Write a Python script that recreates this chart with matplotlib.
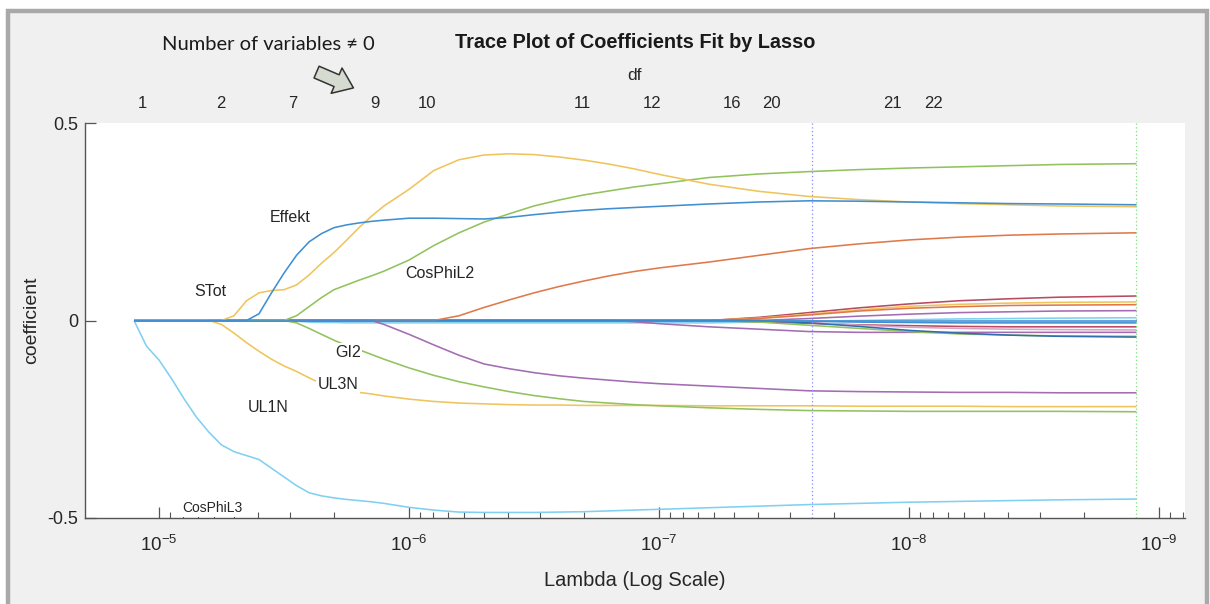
import numpy as np
import matplotlib
matplotlib.use("Agg")
import matplotlib.pyplot as plt
from matplotlib.patches import Rectangle, FancyArrowPatch
from matplotlib.ticker import LogLocator, NullFormatter, FixedLocator

plt.rcParams['font.family'] = ['Liberation Sans', 'DejaVu Sans']

# ---------------- data ----------------
LOG_LAMBDA = [-4.90, -4.95, -5.00, -5.05, -5.10, -5.15, -5.20, -5.25, -5.30, -5.35,
              -5.40, -5.45, -5.50, -5.55, -5.60, -5.65, -5.70, -5.75, -5.80, -5.85,
              -5.90, -6.00, -6.10, -6.20, -6.30, -6.40, -6.50, -6.60, -6.70, -6.80,
              -6.90, -7.00, -7.20, -7.40, -7.60, -7.80, -8.00, -8.20, -8.40, -8.60,
              -8.91]

COSPHIL3 = [0.0, -0.065, -0.100, -0.147, -0.198, -0.245, -0.283, -0.315, -0.332, -0.342,
            -0.352, -0.374, -0.396, -0.418, -0.436, -0.444, -0.449, -0.453, -0.456, -0.459,
            -0.463, -0.473, -0.480, -0.485, -0.486, -0.486, -0.486, -0.485, -0.484, -0.482,
            -0.480, -0.478, -0.474, -0.470, -0.466, -0.463, -0.460, -0.458, -0.456, -0.454,
            -0.452]
EFFEKT = [0.0] * 10 + [0.017, 0.070, 0.120, 0.165, 0.199, 0.220, 0.235, 0.242, 0.247, 0.251,
                       0.254, 0.259, 0.259, 0.258, 0.257, 0.261, 0.268, 0.274, 0.279, 0.283,
                       0.286, 0.289, 0.295, 0.300, 0.303, 0.302, 0.300, 0.298, 0.296, 0.295,
                       0.293]
STOT = [0.0] * 8 + [0.012, 0.050, 0.070, 0.076, 0.078, 0.090, 0.115, 0.145, 0.172, 0.203,
                    0.235, 0.264, 0.290, 0.332, 0.380, 0.407, 0.419, 0.422, 0.420, 0.414,
                    0.406, 0.396, 0.384, 0.370, 0.345, 0.327, 0.314, 0.306, 0.300, 0.296,
                    0.293, 0.290, 0.288]
COSPHIL2 = [0.0] * 13 + [0.012, 0.035, 0.058, 0.078, 0.090, 0.102, 0.113, 0.125, 0.153, 0.190,
                         0.222, 0.249, 0.270, 0.290, 0.305, 0.318, 0.328, 0.338, 0.346, 0.362,
                         0.371, 0.377, 0.382, 0.386, 0.389, 0.392, 0.395, 0.397]
GI2 = [0.0] * 13 + [-0.006, -0.020, -0.035, -0.050, -0.063, -0.074, -0.086, -0.098, -0.120, -0.139,
                    -0.155, -0.168, -0.180, -0.190, -0.198, -0.205, -0.209, -0.213, -0.216, -0.221,
                    -0.225, -0.228, -0.229, -0.230, -0.230, -0.230, -0.230, -0.231]
UL3N = [0.0] * 7 + [-0.010, -0.032, -0.056, -0.078, -0.098, -0.115, -0.129, -0.145, -0.160, -0.169,
                    -0.176, -0.182, -0.186, -0.191, -0.199, -0.205, -0.209, -0.211, -0.213, -0.214,
                    -0.214, -0.215, -0.215, -0.215, -0.215, -0.216, -0.216, -0.216, -0.217, -0.217,
                    -0.217, -0.218, -0.218, -0.218]
PURPLE_NEG = [0.0] * 20 + [-0.010, -0.035, -0.062, -0.088, -0.110, -0.122, -0.132, -0.140, -0.146, -0.151,
                           -0.156, -0.160, -0.166, -0.172, -0.178, -0.180, -0.181, -0.182, -0.182, -0.183,
                           -0.183]
ORANGE_POS = [0.0] * 23 + [0.012, 0.033, 0.052, 0.070, 0.086, 0.100, 0.113, 0.124, 0.133, 0.148,
                           0.165, 0.182, 0.194, 0.204, 0.211, 0.216, 0.219, 0.222]
LIGHTBLUE_SMALL = [0.0] * 13 + [-0.002, -0.004, -0.005, -0.005, -0.006, -0.006, -0.006, -0.006,
                                -0.006, -0.006, -0.006, -0.006, -0.006, -0.006, -0.006, -0.006,
                                -0.006, -0.006, -0.006, -0.006, -0.004, -0.002, 0.000, 0.002,
                                0.004, 0.005, 0.006, 0.007]
PURPLE_SMALL = [0.0] * 30 + [-0.003, -0.008, -0.016, -0.022, -0.028, -0.030, -0.030, -0.030, -0.030,
                             -0.030, -0.030]
DARKRED_SMALL = [0.0] * 33 + [0.008, 0.020, 0.032, 0.042, 0.050, 0.055, 0.059, 0.062]
YELLOW_SMALL = [0.0] * 33 + [0.006, 0.016, 0.027, 0.036, 0.041, 0.044, 0.046, 0.047]
ORANGE_SMALL = [0.0] * 33 + [0.005, 0.014, 0.024, 0.031, 0.035, 0.038, 0.039, 0.040]
PURPLE_SMALL2 = [0.0] * 34 + [0.005, 0.011, 0.016, 0.020, 0.022, 0.024, 0.025]
BLUE_SMALL = [0.0] * 34 + [-0.002, -0.004, -0.005, -0.006, -0.006, -0.006, -0.006]
RED_SMALL = [0.0] * 33 + [-0.003, -0.007, -0.011, -0.013, -0.015, -0.016, -0.016, -0.016]
PINK_SMALL = [0.0] * 34 + [-0.005, -0.012, -0.017, -0.020, -0.022, -0.023, -0.024]
GREEN_SMALL = [0.0] * 33 + [-0.004, -0.012, -0.020, -0.028, -0.034, -0.037, -0.039, -0.040]
DARKBLUE_SMALL = [0.0] * 34 + [-0.006, -0.015, -0.025, -0.032, -0.037, -0.040, -0.042]
ZERO_VAR = [0.0] * 41

BLUE = '#3f8fd2'
ORANGE = '#e0794a'
YELLOW = '#f0c45c'
PURPLE = '#a36cb3'
GREEN = '#92c25e'
LIGHTBLUE = '#80d0f2'
DARKRED = '#b84a62'
PINK = '#d9a3c8'

SERIES = [
    (LIGHTBLUE_SMALL, LIGHTBLUE), (DARKRED_SMALL, DARKRED), (YELLOW_SMALL, YELLOW),
    (ORANGE_SMALL, ORANGE), (PURPLE_SMALL2, PURPLE), (BLUE_SMALL, BLUE), (RED_SMALL, DARKRED),
    (PINK_SMALL, PINK), (PURPLE_SMALL, PURPLE), (GREEN_SMALL, GREEN), (DARKBLUE_SMALL, '#2f6fb0'),
    (ORANGE_POS, ORANGE), (PURPLE_NEG, PURPLE), (UL3N, YELLOW), (GI2, GREEN),
    (COSPHIL2, GREEN), (STOT, YELLOW), (COSPHIL3, LIGHTBLUE), (EFFEKT, BLUE), (ZERO_VAR, BLUE),
]

# variable labels: (text, log10 lambda, coefficient, fontsize)
LABELS = [
    ('Effekt', -5.524, 0.262, 11.5),
    ('STot', -5.204, 0.073, 11.5),
    ('CosPhiL2', -6.124, 0.118, 11.5),
    ('GI2', -5.756, -0.080, 11.5),
    ('UL3N', -5.716, -0.163, 11.5),
    ('UL1N', -5.436, -0.221, 11.5),
    ('CosPhiL3', -5.212, -0.475, 10),
]

DF_LOG = [-4.932, -5.248, -5.536, -5.864, -6.072, -6.692, -6.972, -7.292, -7.448, -7.932, -8.096]
DF_LABELS = ['1', '2', '7', '9', '10', '11', '12', '16', '20', '21', '22']

LOG_LAMBDA_1SE = -7.612
LOG_LAMBDA_MINMSE = -8.908
XLIM_LOG = (-4.704, -9.104)
XTICK_LOG = [-5, -6, -7, -8, -9]
YTICKS = [-0.5, 0, 0.5]
YTICKLABELS = ['-0.5', '0', '0.5']

# ---------------- figure ----------------
W, H = 1210, 604
fig = plt.figure(figsize=(W / 100, H / 100), dpi=100, facecolor='white')
fig.add_artist(Rectangle((8 / W, -0.05), 1199 / W, (H - 11) / H + 0.05,
                         transform=fig.transFigure, facecolor='#f0f0f0',
                         edgecolor='#a9a9a9', linewidth=3.2, zorder=0))

ax = fig.add_axes([85 / W, (H - 518) / H, 1100 / W, 395 / H])
ax.set_facecolor('white')
lam = 10.0 ** np.array(LOG_LAMBDA)
for vals, color in SERIES:
    ax.plot(lam, vals, color=color, lw=1.15, solid_capstyle='butt')

ax.axvline(10 ** LOG_LAMBDA_1SE, color='#8a8aff', lw=0.9, ls=(0, (1, 2)))
ax.axvline(10 ** LOG_LAMBDA_MINMSE, color='#7fdc7f', lw=0.9, ls=(0, (1, 2)))

ax.set_xscale('log')
ax.set_xlim(10 ** XLIM_LOG[0], 10 ** XLIM_LOG[1])
ax.set_ylim(-0.5, 0.5)
ax.set_yticks(YTICKS)
ax.set_yticklabels(YTICKLABELS)
ax.xaxis.set_major_locator(FixedLocator(10.0 ** np.array(XTICK_LOG, dtype=float)))
ax.set_xticklabels([r'$\mathdefault{10^{%d}}$' % e for e in XTICK_LOG])
ax.xaxis.set_minor_locator(LogLocator(base=10, subs=np.arange(2, 10), numticks=20))
ax.xaxis.set_minor_formatter(NullFormatter())

for s in ('top', 'right'):
    ax.spines[s].set_visible(False)
for s in ('left', 'bottom'):
    ax.spines[s].set_color('#555555')
    ax.spines[s].set_linewidth(1.0)

ax.tick_params(axis='both', which='major', direction='in', length=8, width=0.9,
               color='#555555', labelcolor='#262626', labelsize=13)
ax.tick_params(axis='x', which='major', pad=12, labelsize=13.5)
ax.tick_params(axis='y', which='major', pad=5)
ax.tick_params(axis='x', which='minor', direction='in', length=4, width=0.8, color='#555555')
ax.tick_params(top=False, right=False, which='both')

ax.set_xlabel('Lambda (Log Scale)', fontsize=14.5, color='#262626')
ax.xaxis.set_label_coords(0.5, -0.133)
ax.set_ylabel('coefficient', fontsize=14, color='#262626')
ax.yaxis.set_label_coords(-0.041, 0.5)

for text, lx, ly, fs in LABELS:
    ax.text(10 ** lx, ly, text, fontsize=fs, color='#262626', ha='center', va='center',
            bbox=dict(facecolor='white', edgecolor='none', pad=1.0), zorder=5)

# top df axis
ax2 = ax.twiny()
ax2.set_xscale('log')
ax2.set_xlim(ax.get_xlim())
ax2.xaxis.set_major_locator(FixedLocator(10.0 ** np.array(DF_LOG)))
ax2.xaxis.set_minor_locator(FixedLocator([]))
ax2.set_xticklabels(DF_LABELS)
ax2.tick_params(axis='x', length=0, pad=9, labelsize=12, labelcolor='#262626')
for s in ax2.spines.values():
    s.set_visible(False)
ax2.patch.set_visible(False)
ax2.set_xlabel('df', fontsize=12.5, color='#262626')
ax2.xaxis.set_label_coords(0.5, 1.108)

fig.text(635 / W, 1 - 43 / H, 'Trace Plot of Coefficients Fit by Lasso', ha='center', va='center',
         fontsize=14.3, fontweight='bold', color='#1a1a1a')

fig.text(268 / W, 1 - 45 / H, 'Number of variables \u2260 0', ha='center', va='center',
         fontsize=14.5, color='#1a1a1a', family=['Lato', 'DejaVu Sans'])
fig.add_artist(FancyArrowPatch((314 / W, 1 - 71 / H), (356 / W, 1 - 89 / H),
                               transform=fig.transFigure,
                               arrowstyle='simple,head_length=0.6,head_width=0.9,tail_width=0.42',
                               mutation_scale=22, facecolor='#d5dbd0', edgecolor='#333333',
                               linewidth=1.1))

fig.savefig('out.png', dpi=100, facecolor=fig.get_facecolor())
